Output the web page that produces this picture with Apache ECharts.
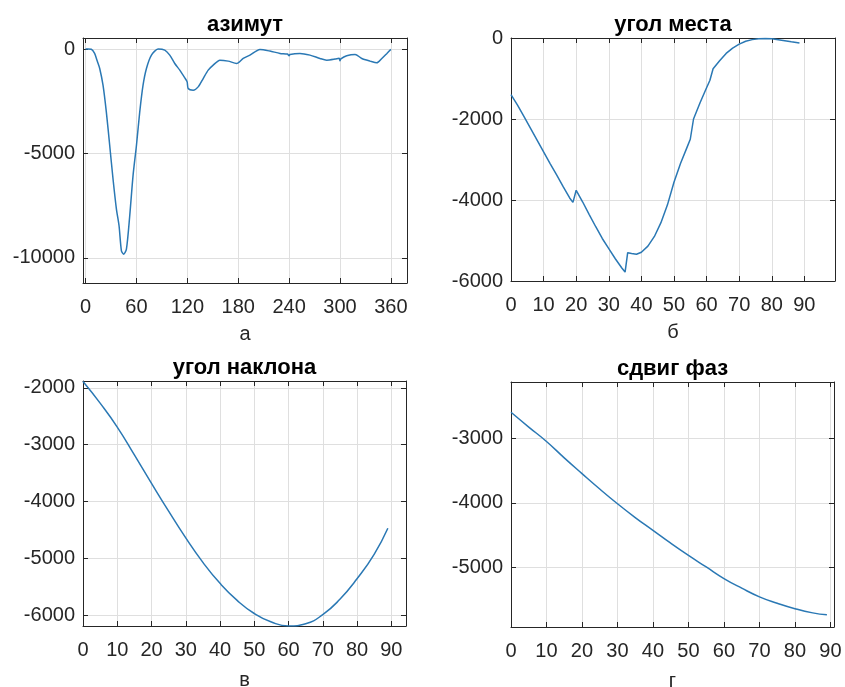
<!DOCTYPE html>
<html>
<head>
<meta charset="utf-8">
<script src="https://cdn.jsdelivr.net/npm/echarts@6/dist/echarts.min.js"></script>
<style>
html, body { margin: 0; padding: 0; background: #fff; }
#chart { width: 845px; height: 687px; }
</style>
</head>
<body>
<div id="chart"></div>
<script>
// азимут
var azimuthX = [0, 3, 6.8, 10.7, 14, 16.7, 20.6, 24.5, 28.5, 32.4, 36.4, 39.5, 42.3, 45, 48.2, 52.1, 56, 60, 63.9, 67.8, 71.8, 77.7, 85.5, 93.4, 99.3, 105.2, 111.1, 117, 119.8, 121, 126.9, 132.8, 138.7, 144.6, 150.5, 158.4, 168.2, 178.1, 185.9, 193.8, 205.6, 217.4, 229.2, 238, 240, 241, 252.8, 264.6, 276.4, 284.3, 294.2, 299, 300, 301, 307.9, 317.8, 325.7, 335.5, 343.4, 349.3, 355.3, 360];
var azimuthY = [0, 0, -10, -210, -600, -930, -1730, -3010, -4615, -6220, -7660, -8460, -9660, -9820, -9580, -7980, -6060, -4615, -3010, -1730, -930, -290, 0, -50, -290, -690, -1010, -1380, -1570, -1890, -1970, -1810, -1410, -1010, -770, -530, -577, -690, -450, -290, -20, -96, -208, -240, -320, -256, -208, -290, -450, -530, -480, -440, -560, -470, -320, -256, -450, -577, -660, -450, -208, -15];

// угол места
var elevationX = [0, 2, 4, 6, 8, 10, 12, 14, 16, 18, 19, 20, 22, 24, 26, 28, 30, 32, 34, 35, 35.8, 37, 38.5, 40, 42, 44, 46, 48, 50, 52, 54, 55, 56, 58, 60, 61, 62, 64, 66, 68, 70, 72, 74, 76, 78, 80, 82, 84, 86, 88.5];
var elevationY = [-1400, -1660, -1940, -2230, -2520, -2810, -3100, -3380, -3670, -3950, -4060, -3760, -4050, -4360, -4660, -4950, -5200, -5450, -5680, -5780, -5300, -5320, -5340, -5290, -5140, -4900, -4560, -4120, -3560, -3100, -2700, -2500, -2000, -1600, -1230, -1050, -760, -560, -380, -250, -150, -80, -40, -20, -10, -20, -45, -70, -95, -125];

// угол наклона
var tiltX = [0, 5, 10, 15, 20, 25, 30, 35, 40, 45, 50, 55, 60, 65, 70, 75, 80, 85, 89];
var tiltY = [-1890, -2270, -2690, -3180, -3680, -4170, -4640, -5070, -5440, -5740, -5970, -6120, -6190, -6150, -5990, -5720, -5360, -4930, -4470];

// сдвиг фаз
var phaseX = [0, 5, 10, 15, 20, 25, 30, 35, 40, 45, 50, 55, 60, 65, 70, 75, 80, 85, 89];
var phaseY = [-2590, -2820, -3045, -3300, -3545, -3785, -4015, -4230, -4430, -4630, -4820, -5000, -5180, -5330, -5465, -5565, -5650, -5715, -5745];

// tick values
var azimuthTicksX = [0, 60, 120, 180, 240, 300, 360];
var azimuthTicksY = [-10000, -5000, 0];
var angleTicks = [0, 10, 20, 30, 40, 50, 60, 70, 80, 90];
var elevationTicksY = [-6000, -4000, -2000, 0];
var tiltTicksY = [-6000, -5000, -4000, -3000, -2000];
var phaseTicksY = [-5000, -4000, -3000];

var FONT = '"Liberation Sans", Arial, Helvetica, sans-serif';
var AXIS_COLOR = '#262626';
var LINE_COLOR = '#2a78b4';

var panels = [
    { title: 'азимут', xName: 'а', left: 83, top: 38, width: 324, height: 245,
      xMin: -3, xMax: 379, yMin: -11200, yMax: 530, nameGap: 41,
      xTicks: azimuthTicksX, yTicks: azimuthTicksY, xs: azimuthX, ys: azimuthY, smooth: 0.25 },
    { title: 'угол места', xName: 'б', left: 511, top: 38, width: 324, height: 243,
      xMin: 0, xMax: 99.4, yMin: -6000, yMax: 0, nameGap: 41,
      xTicks: angleTicks, yTicks: elevationTicksY, xs: elevationX, ys: elevationY, smooth: false },
    { title: 'угол наклона', xName: 'в', left: 83, top: 381, width: 323, height: 245,
      xMin: 0, xMax: 94.3, yMin: -6190, yMax: -1880, nameGap: 44,
      xTicks: angleTicks, yTicks: tiltTicksY, xs: tiltX, ys: tiltY, smooth: true },
    { title: 'сдвиг фаз', xName: 'г', left: 511, top: 382, width: 323, height: 245,
      xMin: 0, xMax: 91, yMin: -5935, yMax: -2118, nameGap: 44,
      xTicks: angleTicks, yTicks: phaseTicksY, xs: phaseX, ys: phaseY, smooth: true }
];

function fmt(v) { return String(v); }

function makeXAxis(p, i, onTop) {
    return {
        type: 'value', gridIndex: i, position: onTop ? 'top' : 'bottom',
        min: p.xMin, max: p.xMax,
        axisLine: { show: true, onZero: false, lineStyle: { color: AXIS_COLOR, width: 1 } },
        axisTick: { show: true, inside: true, length: 5, customValues: p.xTicks, lineStyle: { color: AXIS_COLOR } },
        axisLabel: { show: !onTop, customValues: p.xTicks, formatter: fmt, margin: 14,
                     fontSize: 20, color: AXIS_COLOR, fontFamily: FONT },
        splitLine: { show: !onTop, lineStyle: { color: '#dfdfdf', width: 1 } },
        name: onTop ? p.title : p.xName,
        nameLocation: 'middle',
        nameGap: onTop ? 2 : p.nameGap,
        nameTextStyle: onTop
            ? { fontSize: 22, fontWeight: 'bold', color: '#000', fontFamily: FONT }
            : { fontSize: 20, color: AXIS_COLOR, fontFamily: FONT }
    };
}

function makeYAxis(p, i, onRight) {
    return {
        type: 'value', gridIndex: i, position: onRight ? 'right' : 'left',
        min: p.yMin, max: p.yMax,
        axisLine: { show: true, onZero: false, lineStyle: { color: AXIS_COLOR, width: 1 } },
        axisTick: { show: true, inside: true, length: 5, customValues: p.yTicks, lineStyle: { color: AXIS_COLOR } },
        axisLabel: { show: !onRight, customValues: p.yTicks, formatter: fmt, margin: 8,
                     fontSize: 20, color: AXIS_COLOR, fontFamily: FONT },
        splitLine: { show: !onRight, lineStyle: { color: '#dfdfdf', width: 1 } }
    };
}

var grids = [], xAxes = [], yAxes = [], series = [];
panels.forEach(function (p, i) {
    grids.push({ left: p.left, top: p.top, width: p.width, height: p.height,
                 outerBoundsMode: 'none', containLabel: false });
    xAxes.push(makeXAxis(p, i, false));
    yAxes.push(makeYAxis(p, i, false));
    series.push({
        type: 'line',
        xAxisIndex: xAxes.length - 1,
        yAxisIndex: yAxes.length - 1,
        data: p.xs.map(function (x, k) { return [x, p.ys[k]]; }),
        showSymbol: false,
        smooth: p.smooth,
        clip: true,
        lineStyle: { color: LINE_COLOR, width: 1.5 },
        itemStyle: { color: LINE_COLOR },
        animation: false
    });
    xAxes.push(makeXAxis(p, i, true));
    yAxes.push(makeYAxis(p, i, true));
});

var myChart = echarts.init(document.getElementById('chart'));
myChart.setOption({
    backgroundColor: '#fff',
    animation: false,
    grid: grids,
    xAxis: xAxes,
    yAxis: yAxes,
    series: series
});
</script>
</body>
</html>
